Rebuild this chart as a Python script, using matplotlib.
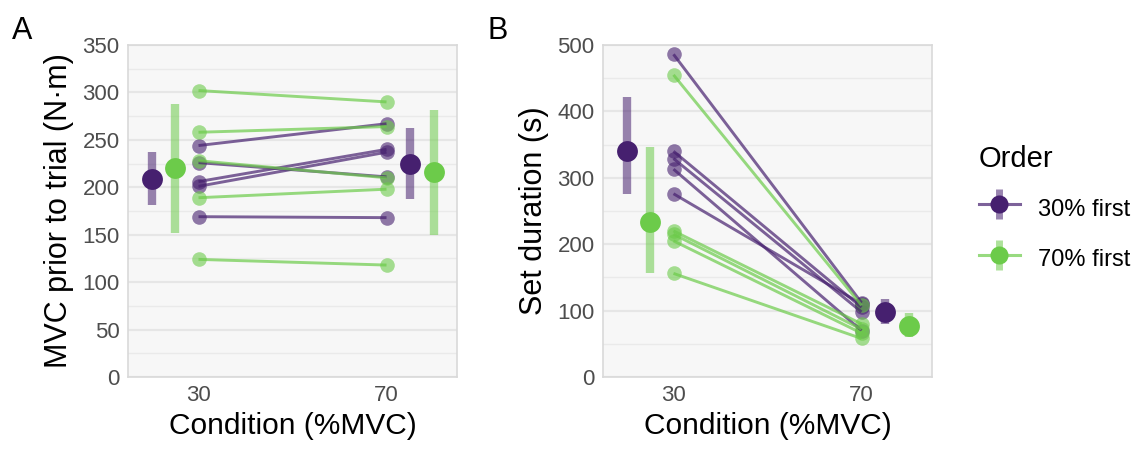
import matplotlib
matplotlib.use('Agg')
import matplotlib.pyplot as plt
import numpy as np
from matplotlib.lines import Line2D
from matplotlib.legend_handler import HandlerTuple

plt.rcParams['font.family'] = ['Liberation Sans', 'DejaVu Sans']

# --- data ---------------------------------------------------------------
conditions = ['30', '70']
groups = ['30% first', '70% first']
colors = {'30% first': '#46206F', '70% first': '#6CCB4A'}

# panel A: MVC prior to trial (N·m), one row per participant, [30, 70]
mvc_30first = [[244, 267], [226, 211], [206, 240], [201, 237], [169, 168]]
mvc_70first = [[302, 290], [258, 264], [228, 210], [189, 198], [124, 118]]
# summary (centre, lower, upper) for [30, 70]
mvc_mid_30first = [209, 225]
mvc_lo_30first = [181, 188]
mvc_hi_30first = [237, 262]
mvc_mid_70first = [220, 216]
mvc_lo_70first = [152, 150]
mvc_hi_70first = [288, 282]

# panel B: set duration (s)
dur_30first = [[486, 112], [340, 105], [329, 98], [313, 70], [276, 110]]
dur_70first = [[455, 108], [220, 80], [215, 72], [205, 66], [156, 58]]
dur_mid_30first = [341, 98]
dur_lo_30first = [276, 80]
dur_hi_30first = [421, 118]
dur_mid_70first = [234, 77]
dur_lo_70first = [156, 60]
dur_hi_70first = [347, 97]

# --- plotting ------------------------------------------------------------
fig = plt.figure(figsize=(11.44, 4.5), dpi=100)
axA = fig.add_axes([128 / 1144, 73 / 450, 329 / 1144, 332 / 450])
axB = fig.add_axes([603 / 1144, 73 / 450, 329 / 1144, 332 / 450])

xpos = np.arange(len(conditions))
# summary offsets: left of 30, right of 70
offsets = {'30% first': [-0.25, 0.125], '70% first': [-0.125, 0.25]}


def panel(ax, indiv, mids, los, his, ylim, major, minor, ylabel):
    ax.set_facecolor('#F7F7F7')
    for y in minor:
        ax.axhline(y, color='#EAEAEA', lw=1.0, zorder=0)
    for y in major:
        ax.axhline(y, color='#E6E6E6', lw=1.6, zorder=0)
    for g in groups:
        c = colors[g]
        for row in indiv[g]:
            ax.plot(xpos, row, color=c, lw=2.1, alpha=0.7, zorder=3,
                    solid_capstyle='butt')
            ax.plot(xpos, row, 'o', color=c, ms=10.5, alpha=0.6, mew=0,
                    zorder=2)
        sx = xpos + np.array(offsets[g])
        m, lo, hi = np.array(mids[g]), np.array(los[g]), np.array(his[g])
        ax.vlines(sx, lo, hi, color=c, lw=6, alpha=0.55, zorder=4)
        ax.plot(sx, m, 'o', color=c, ms=15, mew=0, zorder=5)
    ax.set_xlim(-0.375, 1.375)
    ax.set_ylim(*ylim)
    ax.set_xticks(xpos)
    ax.set_xticklabels(conditions)
    ax.set_yticks(major)
    ax.tick_params(length=0, labelsize=16, labelcolor='#4D4D4D', pad=6)
    for s in ax.spines.values():
        s.set_color('#D9D9D9')
        s.set_linewidth(1.2)
    ax.set_xlabel('Condition (%MVC)', fontsize=21.5, labelpad=4)
    ax.set_ylabel(ylabel, fontsize=22, labelpad=6)


panel(axA,
      {'30% first': mvc_30first, '70% first': mvc_70first},
      {'30% first': mvc_mid_30first, '70% first': mvc_mid_70first},
      {'30% first': mvc_lo_30first, '70% first': mvc_lo_70first},
      {'30% first': mvc_hi_30first, '70% first': mvc_hi_70first},
      (0, 350), np.arange(0, 351, 50), np.arange(25, 350, 50),
      'MVC prior to trial (N·m)')
panel(axB,
      {'30% first': dur_30first, '70% first': dur_70first},
      {'30% first': dur_mid_30first, '70% first': dur_mid_70first},
      {'30% first': dur_lo_30first, '70% first': dur_lo_70first},
      {'30% first': dur_hi_30first, '70% first': dur_hi_70first},
      (0, 500), np.arange(0, 501, 100), np.arange(50, 500, 100),
      'Set duration (s)')

fig.text(12 / 1144, 1 - 16 / 450, 'A', fontsize=22, va='top', ha='left')
fig.text(487 / 1144, 1 - 16 / 450, 'B', fontsize=22, va='top', ha='left')

handles = []
for g in groups:
    c = colors[g]
    h1 = Line2D([], [], color=c, lw=2.2, alpha=0.7)
    h2 = Line2D([], [], color=c, marker='|', ms=22, mew=5, alpha=0.55,
                linestyle='none')
    h3 = Line2D([], [], color=c, marker='o', ms=13, mew=0, linestyle='none')
    handles.append((h1, h2, h3))
leg = fig.legend(handles, groups, title='Order', loc='center left',
                 bbox_to_anchor=(962 / 1144, 1 - 209 / 450),
                 handler_map={tuple: HandlerTuple(ndivide=1, pad=0)},
                 frameon=False, fontsize=17, title_fontsize=21,
                 handlelength=1.75, handleheight=1.6, labelspacing=0.85,
                 handletextpad=0.75, borderpad=0.2)
leg._legend_box.align = 'left'

fig.savefig('out.png', dpi=100)
